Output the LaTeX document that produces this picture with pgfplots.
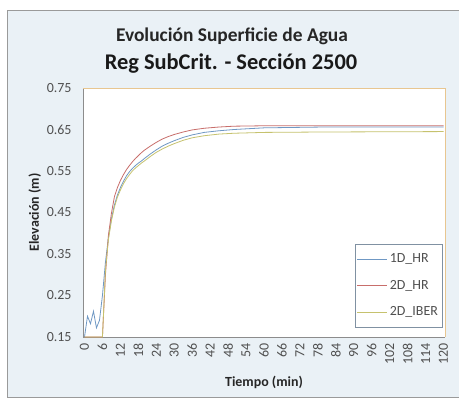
\documentclass[border=0pt]{standalone}
\usepackage{pgfplots}
\pgfplotsset{compat=1.18}
\usepackage{fontspec}
\setmainfont{Carlito}
\definecolor{bgc}{HTML}{EAF1F6}
\definecolor{frame}{HTML}{9A9A9A}
\definecolor{axg}{HTML}{8C8C8C}
\definecolor{ctan}{HTML}{E8C690}
\definecolor{cblue}{HTML}{6F98C4}
\definecolor{cred}{HTML}{C86E6B}
\definecolor{cgrn}{HTML}{C6C26E}
\definecolor{txt}{HTML}{505050}
\begin{document}
\begin{tikzpicture}[x=1bp,y=1bp]
\path[use as bounding box] (0,0) rectangle (459,399);
\fill[white] (0,0) rectangle (459,399);
\filldraw[fill=bgc,draw=frame,line width=0.8bp] (7,2) rectangle (470,389);
\node[font=\bfseries\fontsize{19.5}{22}\selectfont,text=black!85] at (232,363) {Evolución Superficie de Agua};
\node[font=\bfseries\fontsize{22.5}{26}\selectfont,text=black!90] at (231,335) {Reg SubCrit. - Sección 2500};
\begin{axis}[
  at={(83bp,62bp)}, anchor=south west,
  scale only axis, width=362bp, height=249bp,
  xmin=-0.5, xmax=120.5, ymin=0.15, ymax=0.75,
  xtick={0,6,...,120},
  ytick={0.15,0.25,0.35,0.45,0.55,0.65,0.75},
  y tick label style={/pgf/number format/fixed, /pgf/number format/fixed zerofill, /pgf/number format/precision=2},
  /pgf/number format/assume math mode=true,
  major tick length=0pt,
  tick style={draw=none},
  axis line style={draw=none},
  axis background/.style={fill=white},
  ticklabel style={font=\fontsize{14}{16}\selectfont, text=txt},
  xticklabel style={rotate=90, anchor=east},
  every x tick label/.append style={xshift=-3bp},
  every y tick label/.append style={xshift=-8bp},
  xlabel={\bfseries Tiempo (min)},
  ylabel={\bfseries Elevación (m)},
  label style={font=\fontsize{14}{16}\selectfont, text=black!85},
  xlabel style={at={(axis description cs:0.5,-0.181)}, anchor=center},
  ylabel style={at={(axis description cs:-0.133,0.5)}, anchor=center},
  clip=false,
  legend style={at={(0.992,0.375)}, anchor=north east, draw=axg!60!cblue, fill=white,
    font=\fontsize{14}{16}\selectfont, text=txt, row sep=12bp, inner xsep=2bp, inner ysep=8bp},
  legend cell align=left,
  legend image code/.code={\draw[#1] (0bp,0bp) -- (30bp,0bp);},
]
\draw[axg, line width=0.8bp] (rel axis cs:0,1) -- (rel axis cs:0,0) -- (rel axis cs:1,0);
\draw[ctan, line width=1bp] (rel axis cs:0,1) -- (rel axis cs:1,1) -- (rel axis cs:1,0);
\addplot[cblue, line width=0.8bp] coordinates {
(0,0.15)(1,0.20)(2,0.182)(3,0.212)(4,0.172)(5,0.19)(6,0.25)(7,0.33)(8,0.39)(9,0.435)
(10,0.468)(11,0.492)(12,0.510)(13,0.525)(14,0.538)(15,0.548)(16,0.556)(17,0.563)(18,0.569)(19,0.574)
(20,0.580)(22,0.591)(24,0.601)(26,0.610)(28,0.617)(30,0.623)(33,0.631)(36,0.637)(40,0.643)(45,0.647)
(50,0.650)(55,0.652)(60,0.654)(70,0.655)(80,0.656)(120,0.656)};
\addlegendentry{1D\_HR}
\addplot[cred, line width=0.8bp] coordinates {
(0,0.15)(6,0.15)(7,0.30)(8,0.395)(9,0.448)(10,0.488)(11,0.510)(12,0.527)(13,0.541)(14,0.553)
(15,0.563)(16,0.572)(17,0.580)(18,0.587)(19,0.594)(20,0.600)(22,0.610)(24,0.619)(26,0.627)(28,0.633)
(30,0.638)(33,0.644)(36,0.649)(40,0.653)(45,0.656)(50,0.658)(60,0.659)(120,0.659)};
\addlegendentry{2D\_HR}
\addplot[cgrn, line width=0.8bp] coordinates {
(0,0.15)(6,0.15)(7,0.31)(8,0.385)(9,0.43)(10,0.463)(11,0.487)(12,0.504)(13,0.519)(14,0.531)
(15,0.541)(16,0.550)(17,0.557)(18,0.563)(19,0.569)(20,0.574)(22,0.585)(24,0.595)(26,0.603)(28,0.610)
(30,0.616)(33,0.624)(36,0.630)(40,0.635)(45,0.639)(50,0.641)(60,0.643)(80,0.644)(120,0.645)};
\addlegendentry{2D\_IBER}
\end{axis}
\end{tikzpicture}
\end{document}
